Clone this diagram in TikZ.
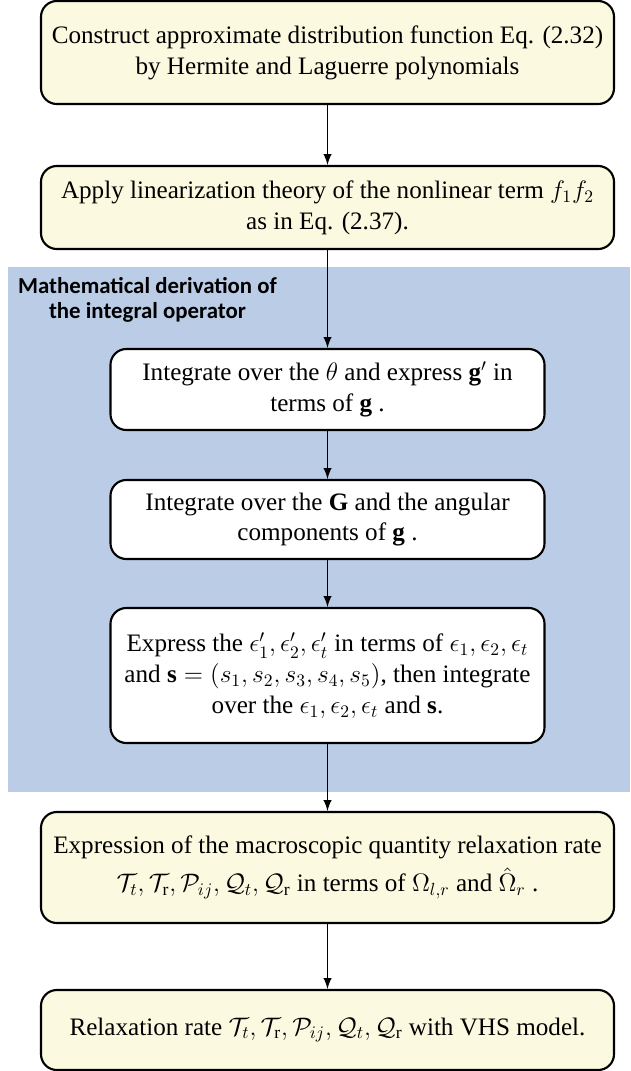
\documentclass[tikz,border=0pt]{standalone}
\usepackage{amssymb}
\usepackage{amsmath}
\usepackage{fontspec}
\setmainfont{Liberation Serif}
\newfontfamily\labelfont{Carlito}
\usepackage{tikz}
\usetikzlibrary{arrows}
\definecolor{creamfill}{RGB}{251,249,224}
\definecolor{panelblue}{RGB}{186,204,230}

\begin{document}
\begin{tikzpicture}[>=latex,
  every node/.style={font=\fontsize{14.3}{17.5}\selectfont},
  outerbox/.style={draw,line width=1.2pt,rounded corners=9pt,fill=creamfill,align=center,minimum width=11.46cm},
  innerbox/.style={draw,line width=1.2pt,rounded corners=9pt,fill=white,align=center,minimum width=8.68cm},
  flow/.style={->,line width=1.1pt}]
 \useasboundingbox (0,0) rectangle (12.6,-21.42);
 % blue panel round the derivation steps
 \fill[panelblue] (0.16,-5.34) rectangle (12.6,-15.84);
 \node[font=\labelfont\bfseries\fontsize{13}{14.5}\selectfont,align=center] (panel) at (2.95,-6.0) {Mathematical derivation of\\the integral operator};
 \node[outerbox,minimum height=2.06cm] (construct) at (6.55,-1.05)  {Construct approximate distribution function Eq. (2.32)\\by Hermite and Laguerre polynomials};
 \node[outerbox,minimum height=1.66cm] (linear) at (6.55,-4.15)     {Apply linearization theory of the nonlinear term $f_1f_2$\\as in Eq. (2.37).};
 \node[innerbox,minimum height=1.62cm] (theta) at (6.55,-7.79)      {Integrate over the $\theta$ and express $\mathbf{g}'$ in\\terms of $\mathbf{g}$ .};
 \node[innerbox,minimum height=1.58cm] (angular) at (6.55,-10.39)   {Integrate over the $\mathbf{G}$ and the angular\\components of $\mathbf{g}$ .};
 \node[innerbox,minimum height=2.7cm] (energy) at (6.55,-13.51)     {Express the $\epsilon_1',\epsilon_2',\epsilon_t'$ in terms of $\epsilon_1,\epsilon_2,\epsilon_t$\\and $\mathbf{s}=\left(s_1,s_2,s_3,s_4,s_5\right)$, then integrate\\over the $\epsilon_1,\epsilon_2,\epsilon_t$ and $\mathbf{s}$.};
 \node[outerbox,minimum height=2.22cm] (macro) at (6.55,-17.35)     {Expression of the macroscopic quantity relaxation rate\\[4pt]$\mathcal{T}_t,\mathcal{T}_\mathrm{r},\mathcal{P}_{ij},\mathcal{Q}_t,\mathcal{Q}_\mathrm{r}$ in terms of $\Omega_{l,r}$ and $\hat{\Omega}_r$ .};
 \node[outerbox,minimum height=1.6cm] (vhs) at (6.55,-20.6)         {Relaxation rate $\mathcal{T}_t,\mathcal{T}_\mathrm{r},\mathcal{P}_{ij},\mathcal{Q}_t,\mathcal{Q}_\mathrm{r}$ with VHS model.};
 \draw[flow] (construct)--(linear);
 \draw[flow] (linear)--(theta);
 \draw[flow] (theta)--(angular);
 \draw[flow] (angular)--(energy);
 \draw[flow] (energy)--(macro);
 \draw[flow] (macro)--(vhs);
\end{tikzpicture}
\end{document}
